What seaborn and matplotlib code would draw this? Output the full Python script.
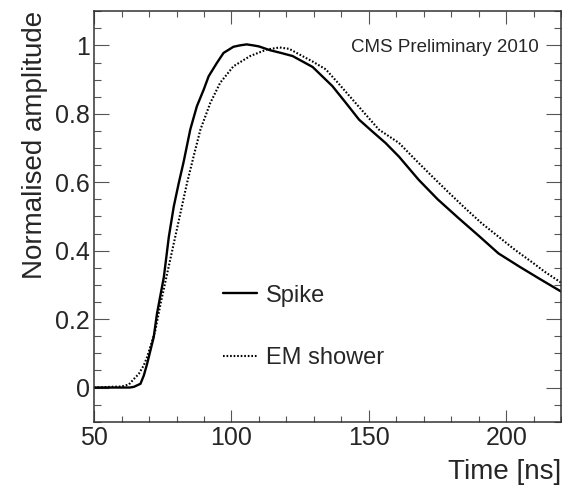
import matplotlib
matplotlib.use('Agg')
import matplotlib.pyplot as plt
from matplotlib.ticker import MultipleLocator, FuncFormatter
import seaborn as sns

# pulse shapes
spike_t = [50, 55, 60, 63, 64.5, 66.9, 68.1, 69.3, 71.7, 72.9, 75.4, 77.2, 79.0, 80.8,
           82.6, 85.0, 87.4, 89.9, 91.7, 94.7, 97.1, 100.7, 103, 105.5, 108, 110, 114,
           118, 122.2, 129.5, 136.7, 141.6, 146.4, 151, 156.0, 160.9, 168.1, 175, 182.6,
           190, 197.1, 205, 212, 220]
spike_a = [0, 0, 0, 0, 0.002, 0.011, 0.035, 0.069, 0.147, 0.216, 0.323, 0.44, 0.529, 0.597,
           0.66, 0.754, 0.822, 0.871, 0.91, 0.949, 0.978, 0.996, 1.0, 1.003, 1.0, 0.997, 0.986,
           0.978, 0.969, 0.937, 0.881, 0.832, 0.783, 0.75, 0.715, 0.675, 0.607, 0.55, 0.495,
           0.443, 0.392, 0.352, 0.318, 0.28]

em_t = [50, 56, 60, 62.7, 64.5, 66.3, 68.1, 69.3, 72.3, 74.2, 76.6, 79.0, 81.4, 83.8,
        86.2, 88.7, 92.3, 95.9, 100.7, 106.8, 112.8, 117.5, 121, 124.6, 129.5, 134.3, 139,
        144, 153.6, 160.9, 167, 173, 179, 185, 191, 197.1, 203, 209.2, 214, 220]
em_a = [0, 0.002, 0.003, 0.009, 0.025, 0.04, 0.065, 0.089, 0.167, 0.245, 0.333, 0.421, 0.509, 0.597,
        0.675, 0.754, 0.832, 0.891, 0.939, 0.969, 0.988, 0.994, 0.99, 0.974, 0.953, 0.93, 0.888,
        0.842, 0.754, 0.715, 0.665, 0.617, 0.57, 0.524, 0.48, 0.441, 0.403, 0.367, 0.338, 0.306]

sns.set_style('ticks')
plt.rcParams['font.family'] = ['Liberation Sans', 'DejaVu Sans']

fig = plt.figure(figsize=(5.62, 4.87), dpi=100)
ax = fig.add_axes([0.1673, 0.134, 0.8317, 0.843])

sns.lineplot(x=spike_t, y=spike_a, color='black', linewidth=1.7, label='Spike', ax=ax)
sns.lineplot(x=em_t, y=em_a, color='black', linewidth=1.5, linestyle=(0, (0.8, 0.9)),
             label='EM shower', ax=ax)

ax.set_xlim(50, 220)
ax.set_ylim(-0.1, 1.1)

ax.xaxis.set_major_locator(MultipleLocator(50))
ax.xaxis.set_minor_locator(MultipleLocator(10))
ax.yaxis.set_major_locator(MultipleLocator(0.2))
ax.yaxis.set_minor_locator(MultipleLocator(0.05))
ax.yaxis.set_major_formatter(FuncFormatter(lambda v, p: '%g' % round(v, 2)))

ax.tick_params(axis='both', which='both', direction='in', top=True, right=True,
               color='#555555', width=0.8, labelsize=18, pad=3)
ax.tick_params(axis='y', which='major', length=10.5)
ax.tick_params(axis='y', which='minor', length=5)
ax.tick_params(axis='x', which='major', length=9)
ax.tick_params(axis='x', which='minor', length=4)

for sp in ax.spines.values():
    sp.set_visible(True)
    sp.set_color('#333333')
    sp.set_linewidth(1.1)

ax.set_xlabel('Time [ns]', fontsize=20, loc='right')
ax.xaxis.set_label_coords(1.0, -0.09)
ax.set_ylabel('Normalised amplitude', fontsize=20, loc='top')
ax.yaxis.set_label_coords(-0.098, 1.0)

ax.text(0.951, 0.900, 'CMS Preliminary 2010', transform=ax.transAxes,
        ha='right', va='baseline', fontsize=13.5)

ax.legend(loc='center left', bbox_to_anchor=(0.276, 0.231), frameon=False, fontsize=17,
          handlelength=1.45, handletextpad=0.35, labelspacing=1.72, borderpad=0, borderaxespad=0)

fig.savefig('out.png', dpi=100)
